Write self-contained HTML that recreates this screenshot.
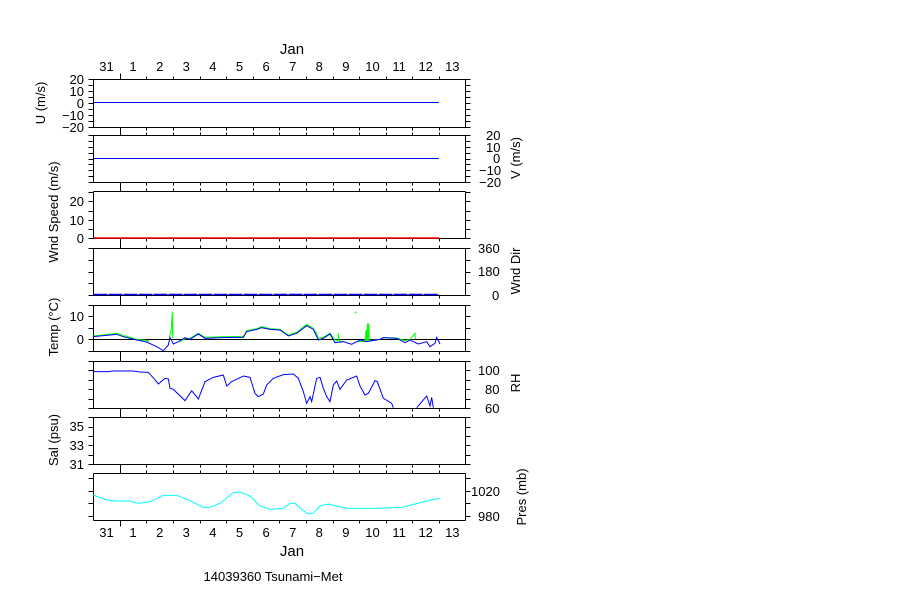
<!DOCTYPE html>
<html><head><meta charset="utf-8"><style>
body{margin:0;background:#fff;}
svg{display:block;font-family:"Liberation Sans",sans-serif;font-size:13px;}
</style></head><body>
<svg id="s" width="899" height="600" viewBox="0 0 899 600" xmlns="http://www.w3.org/2000/svg">
<rect width="899" height="600" fill="#fff"/>
<g id="axes" stroke="#000" stroke-width="1" fill="none"></g>
<line x1="93.5" y1="102.5" x2="439" y2="102.5" stroke="#0000ff"/>
<line x1="93.5" y1="158.5" x2="439" y2="158.5" stroke="#0000ff"/>
<line x1="93.5" y1="238" x2="439" y2="238" stroke="#ff0000" stroke-width="1.5"/>
<line x1="93.5" y1="294.5" x2="439" y2="294.5" stroke="#0000ff" stroke-width="1.5" stroke-dasharray="14,1"/>
<line x1="93.5" y1="339.5" x2="465.5" y2="339.5" stroke="#000"/>
<g transform="translate(90,300) scale(0.33333)" fill="none">
<polyline stroke="#00ff00" vector-effect="non-scaling-stroke" points="10,108 80,100 100,106 140,118 175,122 170,128"/>
<polyline stroke="#00ff00" vector-effect="non-scaling-stroke" points="238,110 243,95 247,35 248,115"/>
<polyline stroke="#00ff00" vector-effect="non-scaling-stroke" points="270,125 285,116 300,115 325,100 345,112 400,110 430,110 460,110 470,92 500,86 515,80 540,86 570,88 595,105 620,97 650,73 670,85 680,100 685,115 700,112 720,100 735,120 760,125"/>
<polyline stroke="#00ff00" vector-effect="non-scaling-stroke" points="745,100 745,122"/>
<polyline stroke="#00ff00" vector-effect="non-scaling-stroke" points="805,125 825,125 828,90 830,125 832,70 834,125 836,70 838,122 870,118 880,112 920,114 945,122 960,118 975,100 976,118"/>
<polyline stroke="#00ff00" vector-effect="non-scaling-stroke" points="794,37 800,37"/>
<polyline stroke="#0000ff" vector-effect="non-scaling-stroke" points="10,110 80,103 100,110 140,120 170,126 200,140 220,152 235,135 240,112 250,132 265,125 285,113 300,118 325,102 345,115 400,113 430,112 460,112 470,95 500,88 515,83 540,88 570,90 595,108 620,100 650,77 670,88 685,120 700,115 720,102 735,128 760,125 785,133 810,120 830,125 870,118 880,113 920,115 945,128 960,120 985,132 1010,125 1020,140 1035,130 1040,112 1050,132"/>
<polyline stroke="#0000ff" vector-effect="non-scaling-stroke" points="10,215 60,215 65,213 130,213 150,216 175,217 200,245 205,252 225,235 235,237 240,265 250,268 285,302 305,272 325,297 345,245 370,232 400,225 410,258 425,245 460,228 480,232 495,280 505,290 520,282 530,255 550,235 580,224 610,222 625,235 640,275 650,310 660,290 665,305 680,235 690,232 700,265 710,290 720,305 730,255 740,243 750,268 770,240 800,228 810,258 825,285 835,280 855,242 862,245 880,295 905,310 910,323"/>
<polyline stroke="#0000ff" vector-effect="non-scaling-stroke" points="980,323 1010,288 1020,318 1025,292 1030,323"/>
</g>
<g transform="translate(90,470) scale(0.33333)" fill="none">
<polyline stroke="#00ffff" vector-effect="non-scaling-stroke" points="10,75 50,90 80,93 120,93 145,100 180,95 220,76 260,76 300,92 340,112 360,112 390,100 430,68 450,66 480,78 510,108 540,118 580,115 600,100 615,100 640,122 655,132 670,130 690,108 715,102 740,108 770,115 850,115 935,112 970,103 1010,93 1048,85"/>
</g>
<g fill="#000" text-anchor="middle">
<text x="292" y="54" font-size="15">Jan</text>
<text x="292" y="556" font-size="15">Jan</text>
<text x="273" y="581">14039360 Tsunami−Met</text>
<g><text x="106.5" y="71">31</text><text x="133" y="71">1</text><text x="159.7" y="71">2</text><text x="186.3" y="71">3</text><text x="212.9" y="71">4</text><text x="239.5" y="71">5</text><text x="266.1" y="71">6</text><text x="292.7" y="71">7</text><text x="319.3" y="71">8</text><text x="345.9" y="71">9</text><text x="372.5" y="71">10</text><text x="399.1" y="71">11</text><text x="425.7" y="71">12</text><text x="452.3" y="71">13</text></g>
<g><text x="106.5" y="537">31</text><text x="133" y="537">1</text><text x="159.7" y="537">2</text><text x="186.3" y="537">3</text><text x="212.9" y="537">4</text><text x="239.5" y="537">5</text><text x="266.1" y="537">6</text><text x="292.7" y="537">7</text><text x="319.3" y="537">8</text><text x="345.9" y="537">9</text><text x="372.5" y="537">10</text><text x="399.1" y="537">11</text><text x="425.7" y="537">12</text><text x="452.3" y="537">13</text></g>
</g>
<g fill="#000" text-anchor="end">
<text x="84" y="84">20</text><text x="84" y="96">10</text><text x="84" y="108">0</text><text x="84" y="120">−10</text><text x="84" y="132">−20</text>
<text x="84" y="206">20</text><text x="84" y="225">10</text><text x="84" y="243">0</text>
<text x="84" y="321">10</text><text x="84" y="344">0</text>
<text x="84" y="431">35</text><text x="84" y="450">33</text><text x="84" y="469">31</text>
</g>
<g fill="#000" text-anchor="start">
<text x="486" y="140">20</text><text x="486" y="152">10</text><text x="493" y="163">0</text><text x="479" y="175">−10</text><text x="479" y="187">−20</text>
<text x="478" y="253">360</text><text x="478" y="276">180</text><text x="492" y="300">0</text>
<text x="478" y="375">100</text><text x="485" y="394">80</text><text x="485" y="413">60</text>
<text x="471" y="496">1020</text><text x="478" y="521">980</text>
</g>
<g fill="#000" text-anchor="middle">
<text transform="translate(45,103) rotate(-90)">U (m/s)</text>
<text transform="translate(58,212) rotate(-90)">Wnd Speed (m/s)</text>
<text transform="translate(58,327) rotate(-90)">Temp (°C)</text>
<text transform="translate(58,440) rotate(-90)">Sal (psu)</text>
<text transform="translate(520,158) rotate(-90)">V (m/s)</text>
<text transform="translate(520,271) rotate(-90)">Wnd Dir</text>
<text transform="translate(520,383) rotate(-90)">RH</text>
<text transform="translate(526,497) rotate(-90)">Pres (mb)</text>
</g>
</svg>
<script>
(function(){
var g=document.getElementById('axes');
function L(x1,y1,x2,y2){var l=document.createElementNS('http://www.w3.org/2000/svg','line');l.setAttribute('x1',x1);l.setAttribute('y1',y1);l.setAttribute('x2',x2);l.setAttribute('y2',y2);g.appendChild(l);}
var X0=93.5,X1=465.5;
var P=[[79,127,[79,85,91,97,103,109,115,121,127]],
[135,182,[135,141,147,153,158.5,164,170,176,182]],
[191,238,[192,201.3,210.5,219.7,228.8,238]],
[248,295,[248,260,271.5,283.3,295]],
[305,351,[305,316.3,327.8,339.3,351]],
[361,408,[361,370.3,379.8,389.3,398.6,408]],
[417,464,[417.3,426.7,436,445.3,455,464.3]],
[473,520,[478,490.7,503.2,515.7]]];
var days=[];for(var k=0;k<13;k++)days.push(Math.round(119.7+26.6*k)+0.5);
P.forEach(function(p,i){
 var t=p[0]+0.5,b=p[1]+0.5;
 L(X0,t,X1,t);L(X0,b,X1,b);L(X0,t,X0,b);L(X1,t,X1,b);
 p[2].forEach(function(y){y=Math.round(y)+0.5;L(X0-5,y,X0,y);L(X1,y,X1+5,y);});
 if(i<7){var nt=P[i+1][0]+0.5;
  days.forEach(function(x,k){if(k==0)L(x,b,x,nt);else{L(x,b,x,b+3);L(x,nt-3,x,nt);}});}
});
var t=P[0][0]+0.5,b=P[7][1]+0.5;
days.forEach(function(x,k){L(x,t-(k==0?6:3),x,t);L(x,b,x,b+(k==0?6:3));});
})();
</script>
</body></html>
